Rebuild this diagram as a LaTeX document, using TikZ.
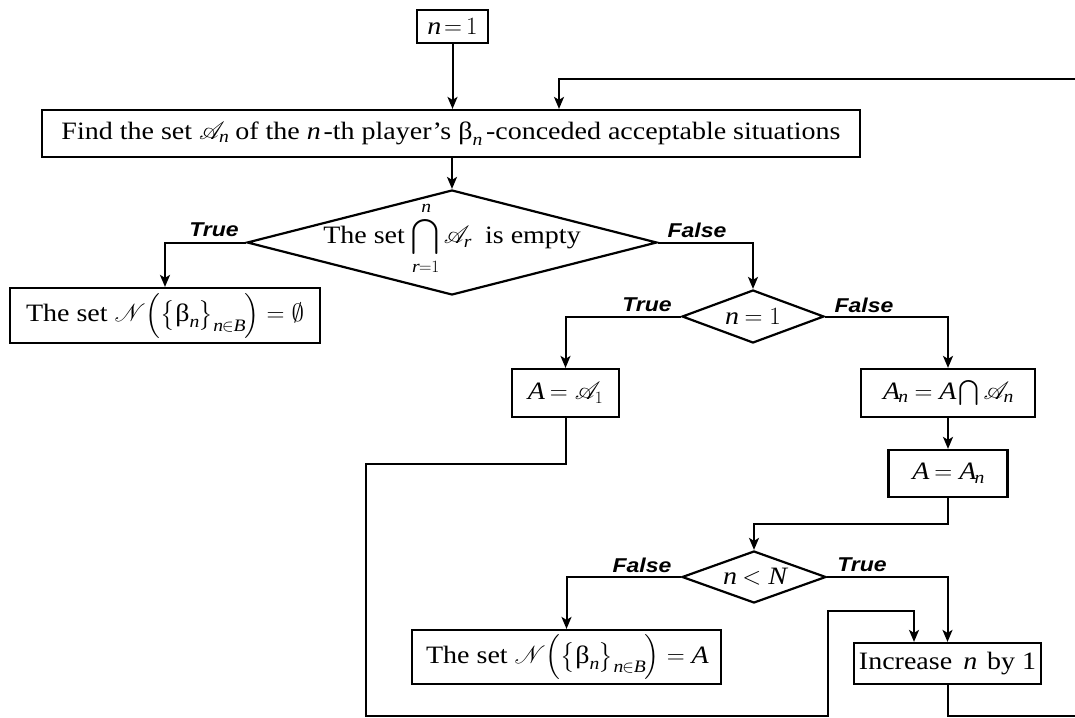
\documentclass[tikz,border=0pt]{standalone}
\usepackage{amsmath,amssymb}
\usepackage{mathrsfs}
\usepackage{fontspec}
\setmainfont[FakeStretch=1.12]{Liberation Serif}
\newfontfamily\lblfont[FakeStretch=1.15]{Liberation Sans}
\usetikzlibrary{shapes.geometric,arrows.meta,calc}
\newcommand{\mi}[1]{\mathit{#1}}
\newcommand{\bet}{\text{β}}
\begin{document}
\begin{tikzpicture}[x=1pt,y=-1pt,
  txt/.style={inner sep=0pt, font=\fontsize{25}{30}\selectfont},
  box/.style={txt, draw, line width=2.2pt},
  dia/.style={draw, diamond, line width=2.2pt, inner sep=0pt},
  conn/.style={line width=2pt},
  arr/.style={conn, -{Stealth[length=12pt,width=10pt,inset=3pt]}},
  lbl/.style={inner sep=0pt, font=\lblfont\fontsize{20}{24}\selectfont\bfseries\itshape}]
\useasboundingbox (0,0) rectangle (1075,717);

% nodes
\node[box, minimum width=71pt, minimum height=33pt] (n1) at (452.5,26.5) {$\mi{n}\,{=}\,1$};
\node[box, minimum width=818pt, minimum height=47pt] (find) at (451,133.5)
  {Find the set $\mathscr{A}_{\mi{n}}$ of the $\mi{n}$\,-th player’s $\bet_{\mi{n}}$\,-conceded acceptable situations};
\node[dia, minimum width=410pt, minimum height=105pt] (d1) at (452,242.5) {};
\node[txt] (d1t) at ([yshift=4pt]d1.center) {The set $\displaystyle\bigcap_{\mi{r}=1}^{\mi{n}}\mathscr{A}_{\mi{r}}$ \ is empty};
\node[box, minimum width=310pt, minimum height=55pt] (box0) at (165,315.5)
  {The set $\mathscr{N}\Big(\big\{\bet_{\mi{n}}\big\}_{\mi{n}\in\mi{B}}\Big)=\emptyset$};
\node[dia, minimum width=142pt, minimum height=53pt] (d2) at (753,316.5) {};
\node[txt] (d2t) at (d2.center) {$\mi{n}=1$};
\node[box, minimum width=107pt, minimum height=48pt] (a1) at (565.5,393) {$\mi{A}=\mathscr{A}_1$};
\node[box, minimum width=174pt, minimum height=48pt] (an) at (948,393)
  {$\mi{A}_{\mi{n}}=\mi{A}\textstyle\bigcap\mathscr{A}_{\mi{n}}$};
\node[box, minimum width=119pt, minimum height=47pt] (aan) at (948,473.5) {$\mi{A}=\mi{A}_{\mi{n}}$};
\node[dia, minimum width=144pt, minimum height=52pt] (d3) at (754,577) {};
\node[txt] (d3t) at (d3.center) {$\mi{n}<\mi{N}$};
\node[box, minimum width=309pt, minimum height=54pt] (boxA) at (566.5,657)
  {The set $\mathscr{N}\Big(\big\{\bet_{\mi{n}}\big\}_{\mi{n}\in\mi{B}}\Big)=\mi{A}$};
\node[box, minimum width=187pt, minimum height=41pt] (inc) at (947.5,663.5)
  {Increase \,$\mi{n}$\, by 1};

% labels
\node[lbl] (t1) at (214,230) {True};
\node[lbl] (f1) at (697,230) {False};
\node[lbl] (t2) at (647,305) {True};
\node[lbl] (f2) at (864,305) {False};
\node[lbl] (f3) at (642,565) {False};
\node[lbl] (t3) at (862,565) {True};

% helper coordinates
\coordinate (loopR) at (1077,79);
\coordinate (c1) at (366,464);
\coordinate (c2) at (366,716);
\coordinate (c3) at (828,716);
\coordinate (c4) at (828,611);
\coordinate (c5) at (0,524);
\coordinate (c6) at (1077,716);

% connectors
\draw[arr] (n1.south) -- (n1.south |- find.north);
\draw[arr] (loopR) -| ([xshift=108pt]find.north);
\draw[arr] (find.south -| d1.north) -- (d1.north);
\draw[arr] (d1.west) -| (box0.north);
\draw[arr] (d1.east) -| (d2.north);
\draw[arr] (d2.west) -| (a1.north);
\draw[arr] (d2.east) -| (an.north);
\draw[arr] (a1.south) |- (c1) -- (c2) -- (c3) -- (c4) -| ([xshift=-33.5pt]inc.north);
\draw[arr] (an.south) -- (an.south |- aan.north);
\draw[arr] (aan.south) -- (aan.south |- c5) -| (d3.north);
\draw[arr] (d3.west) -| (boxA.north);
\draw[arr] (d3.east) -| (inc.north);
\draw[conn] (inc.south) |- (c6);
\end{tikzpicture}
\end{document}
